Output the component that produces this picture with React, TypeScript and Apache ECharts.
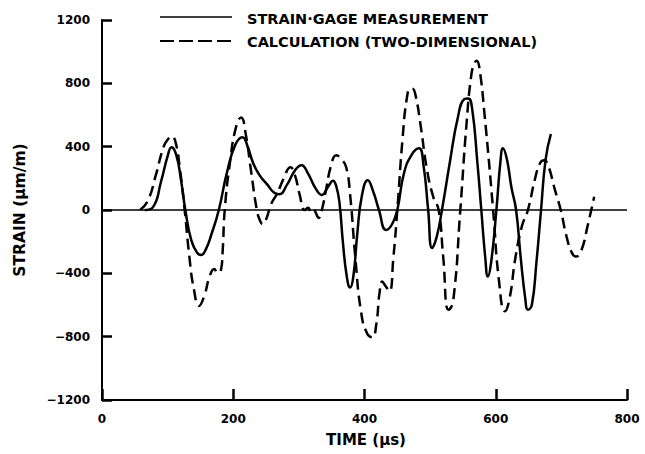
import React, { useEffect, useRef } from "react";
import * as echarts from "echarts";

// Strain-gage measurement (solid)
const measuredTime = [65, 78, 90, 100, 106, 113, 120, 127, 136, 145, 151, 158, 167, 178, 190, 203, 214, 222, 230, 240, 252, 262, 270, 282, 294, 304, 314, 325, 335, 345, 352, 357, 362, 367, 373, 378, 383, 389, 396, 405, 413, 422, 433, 442, 450, 460, 472, 483, 490, 497, 503, 510, 518, 530, 542, 552, 558, 564, 572, 578, 584, 588, 593, 601, 607, 611, 617, 624, 631, 638, 645, 649, 655, 662, 669, 676, 684];
const measuredStrain = [0, 20, 180, 340, 397, 350, 200, 0, -190, -270, -284, -250, -150, 0, 230, 410, 460, 400, 300, 220, 160, 110, 100, 160, 250, 283, 230, 140, 95, 150, 185, 150, 40, -200, -420, -490, -420, -150, 90, 188, 120, 0, -126, -90, 0, 230, 350, 390, 280, 0, -240, -170, 0, 300, 580, 700, 705, 640, 300, 0, -300, -420, -330, 0, 300, 390, 320, 140, 0, -300, -560, -630, -600, -330, 0, 320, 480];

// Calculation, two-dimensional (dashed)
const calcTime = [58, 70, 82, 94, 102, 106, 112, 119, 126, 133, 140, 148, 156, 164, 171, 176, 181, 184, 187, 195, 204, 212, 219, 227, 236, 241, 245, 250, 258, 267, 277, 287, 294, 301, 309, 314, 318, 322, 326, 330, 335, 341, 349, 357, 365, 372, 378, 386, 395, 404, 412, 418, 423, 427, 432, 438, 444, 450, 458, 465, 470, 473, 478, 486, 495, 505, 513, 520, 528, 535, 546, 555, 563, 568, 571, 575, 583, 596, 605, 614, 621, 630, 640, 649, 660, 668, 674, 680, 690, 699, 708, 716, 722, 730, 740, 750];
const calcStrain = [0, 60, 220, 400, 455, 465, 430, 250, 0, -290, -500, -606, -540, -420, -372, -395, -385, -250, 0, 300, 520, 585, 480, 250, 0, -70, -89, -60, 40, 105, 200, 270, 220, 100, 0, 15, -5, 10, -20, -50, 0, 120, 280, 346, 320, 272, 100, -300, -650, -780, -805, -720, -520, -452, -480, -513, -300, 0, 450, 720, 766, 766, 720, 520, 260, 80, 0, -300, -630, -580, 0, 520, 860, 930, 943, 900, 600, 0, -450, -640, -560, -300, -100, 0, 200, 300, 314, 280, 130, 0, -170, -270, -294, -260, -100, 84];

const xTickValues = [0, 200, 400, 600, 800];
const yTickValues = [-1200, -800, -400, 0, 400, 800, 1200];

const legendLabels = ["STRAIN\u00b7GAGE MEASUREMENT", "CALCULATION (TWO-DIMENSIONAL)"];
const xTitle = "TIME (\u03bcs)";
const yTitle = "STRAIN (\u03bcm/m)";

const FONT = "DejaVu Sans";

export default function App() {
  const ref = useRef<HTMLDivElement>(null);
  useEffect(() => {
    if (!ref.current) return;
    const chart = echarts.init(ref.current, null, { renderer: "svg" });
    const measured = measuredTime.map((t, i) => [t, measuredStrain[i]]);
    const calc = calcTime.map((t, i) => [t, calcStrain[i]]);
    const xMin = xTickValues[0];
    const xMax = xTickValues[xTickValues.length - 1];
    const yMin = yTickValues[0];
    const yMax = yTickValues[yTickValues.length - 1];

    chart.setOption({
      animation: false,
      grid: { left: 102, right: 18, top: 20, bottom: 54 },
      xAxis: {
        type: "value",
        min: xMin,
        max: xMax,
        interval: 200,
        axisLine: { show: true, onZero: false, lineStyle: { color: "#000", width: 2 } },
        axisTick: { show: true, inside: true, length: 11, lineStyle: { color: "#000", width: 2.5 } },
        axisLabel: { color: "#000", fontFamily: FONT, fontWeight: "bold", fontSize: 12, margin: 13 },
        splitLine: { show: false },
      },
      yAxis: {
        type: "value",
        min: yMin,
        max: yMax,
        interval: 400,
        axisLine: { show: true, onZero: false, lineStyle: { color: "#000", width: 2 } },
        axisTick: { show: true, inside: true, length: 10, lineStyle: { color: "#000", width: 2.5 } },
        axisLabel: {
          color: "#000",
          fontFamily: FONT,
          fontWeight: "bold",
          fontSize: 12,
          margin: 12,
          formatter: (v: number) => (v < 0 ? "\u2212" + Math.abs(v) : String(v)),
        },
        splitLine: { show: false },
      },
      series: [
        {
          name: legendLabels[0],
          type: "line",
          data: measured,
          smooth: 0.5,
          symbol: "none",
          lineStyle: { color: "#000", width: 2.5 },
          markLine: {
            silent: true,
            symbol: "none",
            label: { show: false },
            lineStyle: { color: "#000", width: 1.5, type: "solid" },
            data: [{ yAxis: 0 }],
          },
          z: 3,
        },
        {
          name: legendLabels[1],
          type: "line",
          data: calc,
          smooth: 0.5,
          symbol: "none",
          lineStyle: { color: "#000", width: 2.5, type: [11, 6] },
          z: 2,
        },
      ],
      graphic: [
        { type: "line", shape: { x1: 160, y1: 17, x2: 232, y2: 17 }, style: { stroke: "#000", lineWidth: 1.5 } },
        { type: "line", shape: { x1: 160, y1: 41, x2: 232, y2: 41 }, style: { stroke: "#000", lineWidth: 2.2, lineDash: [14, 5] } },
        {
          type: "text",
          x: 247,
          y: 19,
          style: { text: legendLabels[0], fill: "#000", font: `bold 14.5px "${FONT}"`, verticalAlign: "middle", align: "left" },
        },
        {
          type: "text",
          x: 247,
          y: 42,
          style: { text: legendLabels[1], fill: "#000", font: `bold 14.5px "${FONT}"`, verticalAlign: "middle", align: "left" },
        },
        {
          type: "text",
          x: 366,
          y: 440,
          style: { text: xTitle, fill: "#000", font: `bold 15px "${FONT}"`, verticalAlign: "middle", align: "center" },
        },
        {
          type: "text",
          x: 20,
          y: 210,
          rotation: Math.PI / 2,
          style: { text: yTitle, fill: "#000", font: `bold 15.5px "${FONT}"`, verticalAlign: "middle", align: "center" },
        },
      ],
    });

    return () => chart.dispose();
  }, []);
  return (
    <div
      ref={ref}
      style={{ position: "fixed", left: 0, top: 0, width: 645, height: 454, background: "#fff" }}
    />
  );
}
